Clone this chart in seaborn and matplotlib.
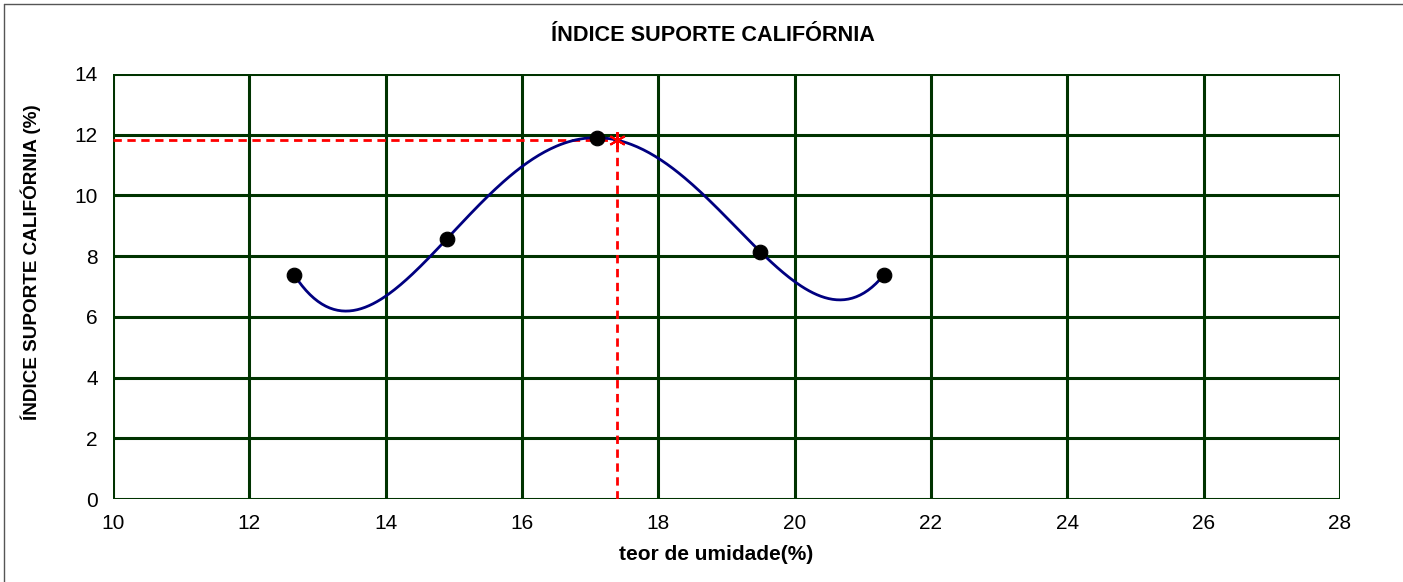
import numpy as np
import matplotlib
matplotlib.use("Agg")
import matplotlib.pyplot as plt
import seaborn as sns
import pandas as pd

# Data
umidade = [12.66, 14.90, 17.10, 19.50, 21.31]
isc = [7.38, 8.57, 11.90, 8.14, 7.38]
otimo_x = [17.39]
otimo_y = [11.83]
x_ticks = [10, 12, 14, 16, 18, 20, 22, 24, 26, 28]
y_ticks = [0, 2, 4, 6, 8, 10, 12, 14]

sns.set_theme(style="white")
plt.rcParams['font.family'] = ['Liberation Sans', 'DejaVu Sans']
plt.rcParams['text.color'] = 'black'
plt.rcParams['axes.labelcolor'] = 'black'

fig = plt.figure(figsize=(14.03, 5.82), dpi=100)
ax = fig.add_axes([0.0805, 0.1426, 0.8745, 0.7304])

# Trend curve (4th order polynomial through the points, as in the spreadsheet)
coef = np.polyfit(umidade, isc, 4)
xs = np.linspace(min(umidade), max(umidade), 300)
curve = pd.DataFrame({"x": xs, "y": np.polyval(coef, xs)})

grid_c = "#003300"
for v in x_ticks:
    ax.axvline(v, color=grid_c, lw=2.2, zorder=1)
for v in y_ticks:
    ax.axhline(v, color=grid_c, lw=2.2, zorder=1)

sns.lineplot(data=curve, x="x", y="y", ax=ax, color="#000080", lw=2, zorder=3)
sns.scatterplot(x=umidade, y=isc, ax=ax, color="black", s=110, edgecolor="black", zorder=4)

# Optimum guides
ax.plot([x_ticks[0], otimo_x[0]], [otimo_y[0], otimo_y[0]], color="red", ls=(0, (3, 2)), lw=2, zorder=2)
ax.plot([otimo_x[0], otimo_x[0]], [y_ticks[0], otimo_y[0]], color="red", ls=(0, (3, 2)), lw=2, zorder=2)
ax.plot(otimo_x, otimo_y, marker=(6, 2, 0), color="red", ms=12, mew=1.5, ls="none", zorder=5)

ax.set_xlim(10, 28)
ax.set_ylim(0, 14)
ax.set_xticks(x_ticks)
ax.set_yticks(y_ticks)
ax.tick_params(axis="both", labelsize=15, labelcolor="black", length=5, width=1, direction="out", pad=6, color="#5a7a5a")
for s in ax.spines.values():
    s.set_visible(False)

ax.set_xlabel("teor de umidade(%)", fontsize=15, fontweight="bold", color="black")
ax.xaxis.set_label_coords(0.492, -0.109)
ax.set_ylabel("ÍNDICE SUPORTE CALIFÓRNIA (%)", fontsize=13.6, fontweight="bold", color="black")
ax.yaxis.set_label_coords(-0.059, 0.558)
fig.suptitle("ÍNDICE SUPORTE CALIFÓRNIA", x=0.5085, y=0.957, fontsize=15.6, fontweight="bold", color="black")

# Thin outer frame
fig.add_artist(plt.Line2D([0.003, 0.003], [0, 0.993], color="#555555", lw=1))
fig.add_artist(plt.Line2D([0.003, 1], [0.993, 0.993], color="#555555", lw=1))

fig.savefig("out.png", dpi=100, facecolor="white")
